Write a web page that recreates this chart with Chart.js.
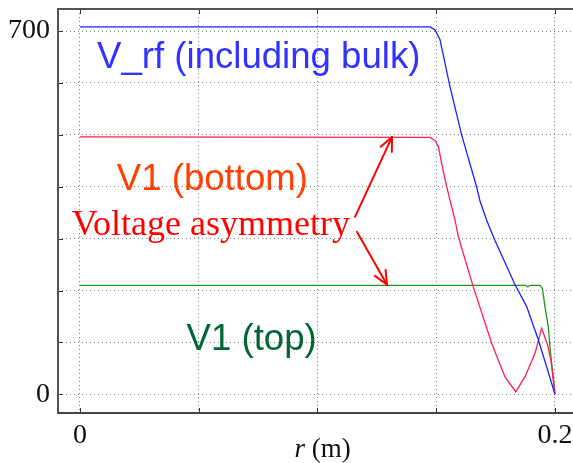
<!DOCTYPE html>
<html>
<head>
<meta charset="utf-8">
<script src="https://cdn.jsdelivr.net/npm/chart.js@4"></script>
<style>
  body { margin: 0; background: #fff; }
  canvas { display: block; }
</style>
</head>
<body>
<canvas id="myChart" width="573" height="463"></canvas>
<script>
// radius (m) and voltage (V)
const rBlue = [0, 0.1474, 0.1495, 0.1516, 0.1558, 0.1607, 0.167, 0.1684, 0.1712, 0.1747, 0.1832, 0.1881, 0.193, 0.1965, 0.2];
const vBlue = [708, 708, 702, 683, 593, 500, 400, 373, 336, 297, 211, 169, 105, 53, 0];

const rRed = [0, 0.1474, 0.1495, 0.1509, 0.1523, 0.1544, 0.1558, 0.1579, 0.1593, 0.1656, 0.1734, 0.1789, 0.1835, 0.1874, 0.1916, 0.1944, 0.1969, 0.1983, 0.2];
const vRed = [496, 495, 489, 477, 445, 400, 374, 336, 304, 207, 98, 34, 5, 34, 79, 127, 95, 66, 0];

const rGreen = [0, 0.1878, 0.1886, 0.1895, 0.1937, 0.1947, 0.1958, 0.1972, 0.1983, 0.1993, 0.2];
const vGreen = [210, 210, 207, 210, 210, 204, 169, 130, 72, 34, 0];

const xTicks = [0, 0.05, 0.1, 0.15, 0.2];
const xLabels = ['0', '', '', '', '0.2'];
const yTicks = [0, 100, 200, 300, 400, 500, 600, 700];
const yLabels = ['0', '', '', '', '', '', '', '700'];

// text notes, placed in data units
const notes = [
  { text: 'V_rf (including bulk)', r: 0.0072, v: 629, color: 'rgb(50,50,255)', font: '36.6px "Liberation Sans"' },
  { text: 'V1 (bottom)', r: 0.0155, v: 394, color: 'rgb(255,64,0)', font: '36.6px "Liberation Sans"' },
  { text: 'Voltage asymmetry', r: -0.0035, v: 307, color: 'rgb(255,0,0)', font: '36px "Liberation Serif"' },
  { text: 'V1 (top)', r: 0.0449, v: 85, color: 'rgb(0,102,51)', font: '36.6px "Liberation Sans"' },
];
const arrows = [
  { r1: 0.1158, v1: 342, r2: 0.1314, v2: 496 },
  { r1: 0.1166, v1: 313, r2: 0.1293, v2: 211 },
];

const pts = (rs, vs) => rs.map((r, i) => ({ x: r, y: vs[i] }));

const frame = {
  id: 'frame',
  afterDraw(chart) {
    const { ctx, chartArea: a, scales: { x, y } } = chart;
    ctx.save();
    const seg = (x1, y1, x2, y2) => { ctx.beginPath(); ctx.moveTo(x1, y1); ctx.lineTo(x2, y2); ctx.stroke(); };

    // inner tick marks
    ctx.strokeStyle = '#333';
    ctx.lineWidth = 1;
    yTicks.forEach(v => { const p = Math.round(y.getPixelForValue(v)) + 0.5; seg(a.left, p, a.left + 5, p); });
    xTicks.forEach(v => {
      const p = Math.round(x.getPixelForValue(v)) + 0.5;
      seg(p, a.bottom, p, a.bottom - 5);
      seg(p, a.top, p, a.top + 5);
    });

    // box (no right side)
    ctx.strokeStyle = '#555';
    ctx.lineWidth = 2;
    seg(a.left, a.top, a.right, a.top);
    seg(a.left, a.top - 1, a.left, a.bottom + 1);
    ctx.strokeStyle = '#444';
    seg(a.left, a.bottom, a.right, a.bottom);

    // notes
    ctx.textBaseline = 'alphabetic';
    ctx.textAlign = 'left';
    notes.forEach(n => {
      ctx.font = n.font;
      ctx.fillStyle = n.color;
      ctx.fillText(n.text, x.getPixelForValue(n.r), y.getPixelForValue(n.v));
    });

    // arrows
    ctx.strokeStyle = 'rgb(255,0,0)';
    ctx.lineWidth = 2;
    ctx.lineCap = 'round';
    arrows.forEach(ar => {
      const x1 = x.getPixelForValue(ar.r1), y1 = y.getPixelForValue(ar.v1);
      const x2 = x.getPixelForValue(ar.r2), y2 = y.getPixelForValue(ar.v2);
      seg(x1, y1, x2, y2);
      const ang = Math.atan2(y2 - y1, x2 - x1);
      const len = 15, spread = 0.42;
      seg(x2, y2, x2 - len * Math.cos(ang - spread), y2 - len * Math.sin(ang - spread));
      seg(x2, y2, x2 - len * Math.cos(ang + spread), y2 - len * Math.sin(ang + spread));
    });

    // x axis title: italic r then " (m)"
    ctx.fillStyle = '#111';
    ctx.font = 'italic 27px "Liberation Serif"';
    const w1 = ctx.measureText('r').width;
    ctx.font = '27px "Liberation Serif"';
    const w2 = ctx.measureText(' (m)').width;
    const cx = (a.left + a.right) / 2 + 7;
    const sx = cx - (w1 + w2) / 2;
    ctx.font = 'italic 27px "Liberation Serif"';
    ctx.fillText('r', sx, 457);
    ctx.font = '27px "Liberation Serif"';
    ctx.fillText(' (m)', sx + w1, 457);
    ctx.restore();
  }
};

new Chart(document.getElementById('myChart'), {
  type: 'scatter',
  data: {
    datasets: [
      { label: 'V_rf', data: pts(rBlue, vBlue), borderColor: 'rgb(30,30,255)' },
      { label: 'V1 bottom', data: pts(rRed, vRed), borderColor: 'rgb(255,30,80)' },
      { label: 'V1 top', data: pts(rGreen, vGreen), borderColor: 'rgb(30,150,30)' },
    ].map(d => Object.assign(d, { showLine: true, pointRadius: 0, borderWidth: 1.3, tension: 0, fill: false }))
  },
  options: {
    responsive: false,
    animation: false,
    layout: { padding: { top: 9, left: 0, right: 0, bottom: 0 } },
    plugins: { legend: { display: false }, tooltip: { enabled: false } },
    scales: {
      x: {
        type: 'linear',
        min: -0.00926,
        max: 0.2076,
        afterBuildTicks: s => { s.ticks = xTicks.map(v => ({ value: v })); },
        afterFit: s => { s.height = 50; s.paddingLeft = 0; s.paddingRight = 0; },
        grid: { color: 'rgba(110,110,110,0.9)', lineWidth: 1, drawTicks: false },
        border: { display: false, dash: [1, 3] },
        ticks: {
          autoSkip: false,
          maxRotation: 0,
          padding: 6,
          color: '#111',
          font: { family: 'Liberation Serif', size: 28 },
          callback: (v, i) => xLabels[i]
        }
      },
      y: {
        type: 'linear',
        min: -36,
        max: 742.4,
        afterBuildTicks: s => { s.ticks = yTicks.map(v => ({ value: v })); },
        afterFit: s => { s.width = 58; s.paddingTop = 0; s.paddingBottom = 0; },
        grid: { color: 'rgba(110,110,110,0.9)', lineWidth: 1, drawTicks: false },
        border: { display: false, dash: [1, 3] },
        ticks: {
          autoSkip: false,
          padding: 8,
          color: '#111',
          font: { family: 'Liberation Serif', size: 28 },
          callback: (v, i) => yLabels[i]
        }
      }
    }
  },
  plugins: [frame]
});
</script>
</body>
</html>
